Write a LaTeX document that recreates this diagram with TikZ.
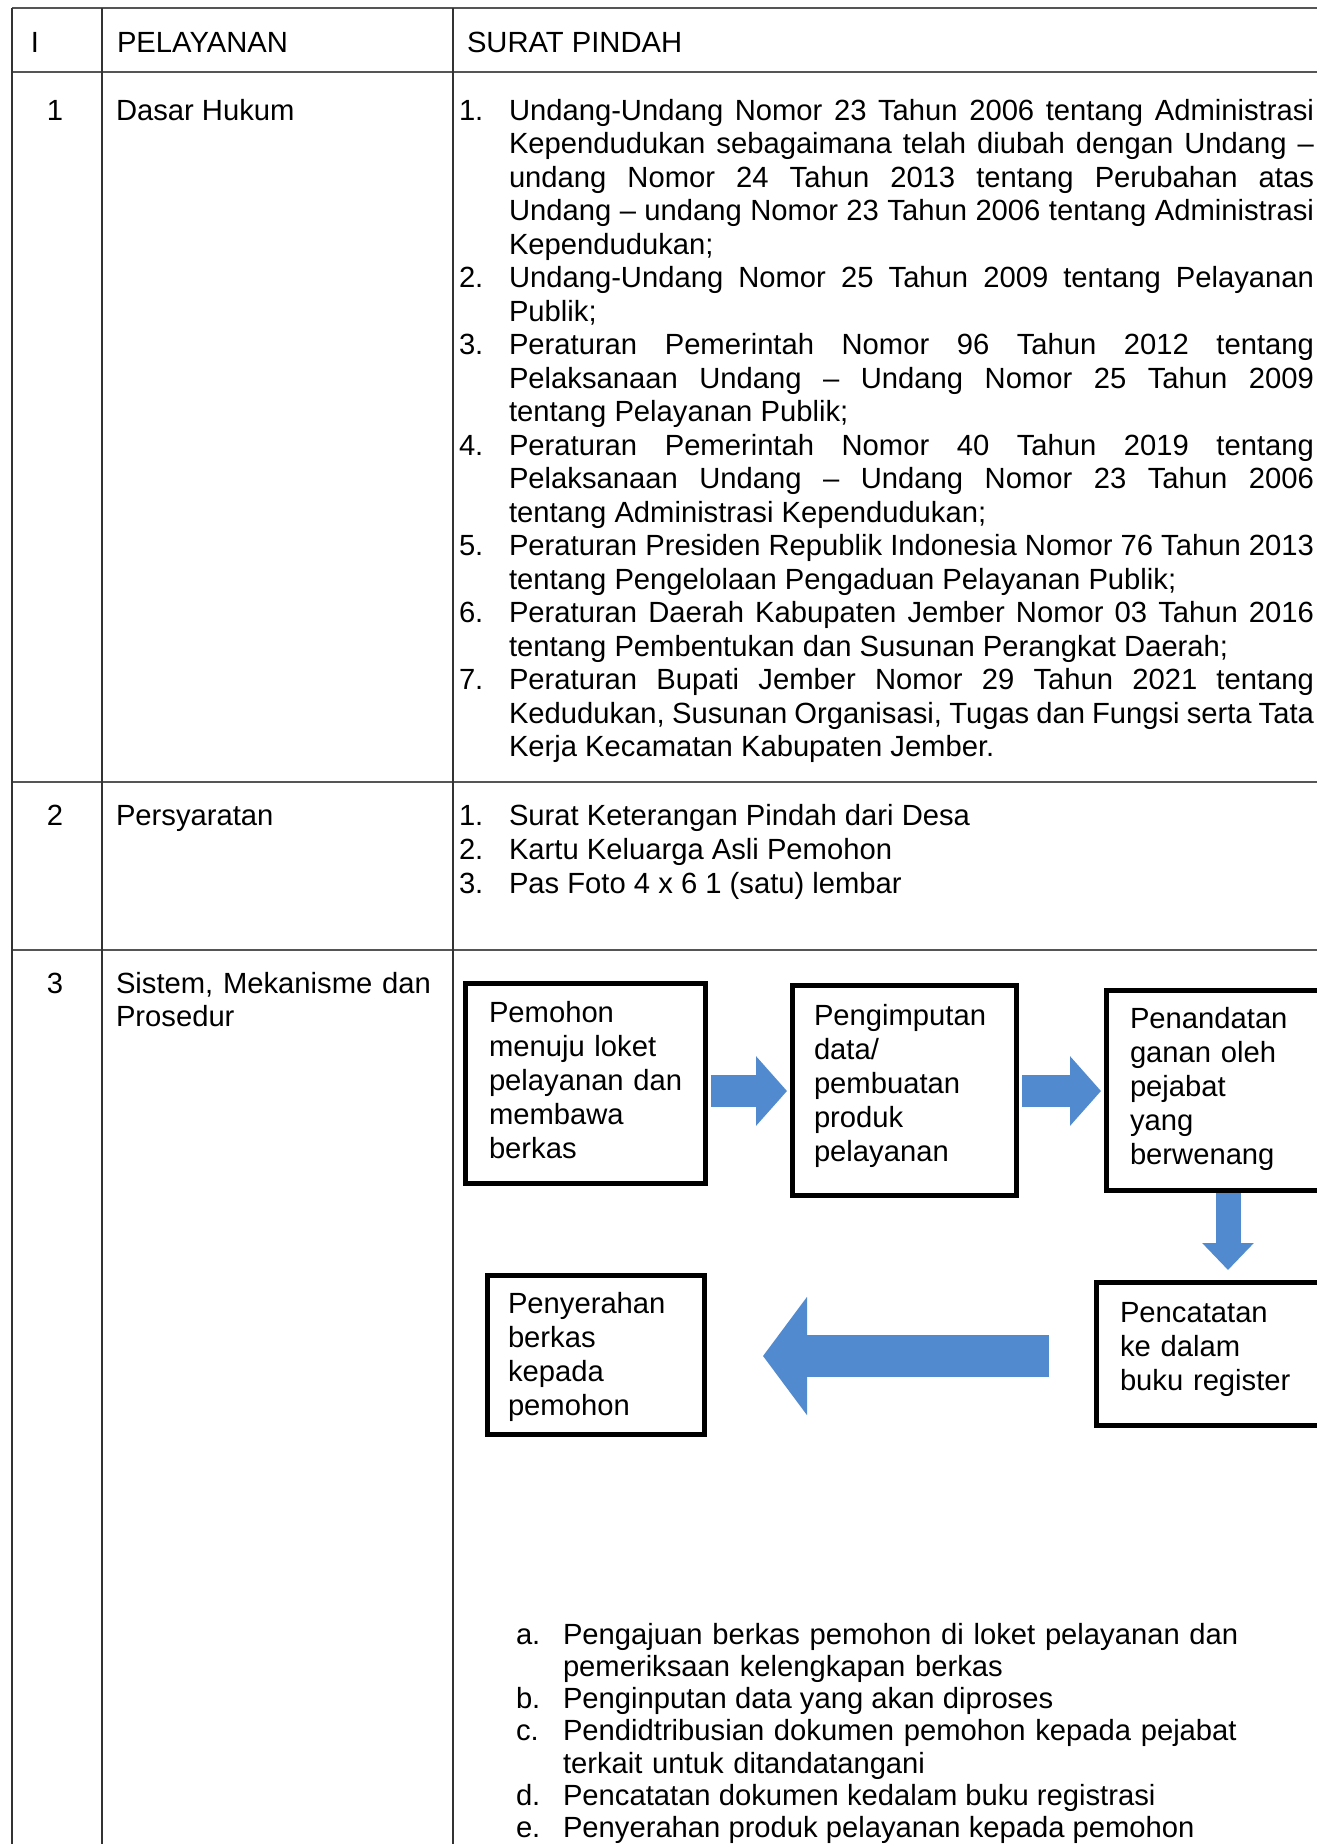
\documentclass[tikz,border=0pt]{standalone}
\usepackage{fontspec}
\setmainfont{Liberation Sans}
\usetikzlibrary{arrows.meta}
\definecolor{arrowblue}{RGB}{82,138,208}
\definecolor{rulegray}{RGB}{85,85,85}
\tolerance=10000
\hyphenpenalty=10000
\exhyphenpenalty=10000
\begin{document}
\begin{tikzpicture}[x=0.5pt,y=-0.5pt,
  every node/.style={inner sep=0pt, outer sep=0pt},
  body/.style={font=\fontsize{14.6pt}{16.75pt}\selectfont},
  txt/.style={body, anchor=base west},
  num/.style={body, anchor=base},
  para/.style={body, anchor=base west, text width=#1, align=left},
  jpara/.style={body, anchor=base west, text width=402.5pt, align=justify},
  flowtxt/.style={anchor=base west, text width=#1, align=left, font=\fontsize{14.6pt}{17pt}\selectfont},
  listtxt/.style={anchor=base west, text width=#1, align=left, font=\fontsize{14.6pt}{16.15pt}\selectfont},
  hline/.style={draw=rulegray, line width=1.2pt},
  vline/.style={draw=black!80, line width=0.75pt},
  flowbox/.style={draw=black, line width=2.5pt, rectangle},
  blockarrow/.style={draw=arrowblue, line cap=butt}
]
\useasboundingbox (0,0) rectangle (1317,1844);
\fill[white] (0,0) rectangle (1317,1844);
\clip (0,0) rectangle (1317,1844);

% table rules
\draw[hline] (12,8) -- (1330,8);
\draw[hline] (12,72) -- (1330,72);
\draw[hline] (12,782) -- (1330,782);
\draw[hline] (12,950) -- (1330,950);
\draw[vline] (12,8) -- (12,1850);
\draw[vline] (102,8) -- (102,1850);
\draw[vline] (453,8) -- (453,1850);

% header
\node[txt] (hI) at (31,52) {I};
\node[txt] (hP) at (117,52) {PELAYANAN};
\node[txt] (hS) at (467,52) {SURAT PINDAH};

% row 1
\node[num] (n1) at (55,120) {1};
\node[txt] (c1) at (116,120) {Dasar Hukum};
\node[txt] (d1n) at (459,120) {1.};
\node[jpara] (d1) at (509,120) {Undang-Undang Nomor 23 Tahun 2006 tentang Administrasi\linebreak Kependudukan sebagaimana telah diubah dengan Undang –\linebreak undang Nomor 24 Tahun 2013 tentang Perubahan atas\linebreak Undang – undang Nomor 23 Tahun 2006 tentang Administrasi\linebreak Kependudukan;};
\node[txt] (d2n) at (459,287.5) {2.};
\node[jpara] (d2) at (509,287.5) {Undang-Undang Nomor 25 Tahun 2009 tentang Pelayanan\linebreak Publik;};
\node[txt] (d3n) at (459,354.5) {3.};
\node[jpara] (d3) at (509,354.5) {Peraturan Pemerintah Nomor 96 Tahun 2012 tentang\linebreak Pelaksanaan Undang – Undang Nomor 25 Tahun 2009\linebreak tentang Pelayanan Publik;};
\node[txt] (d4n) at (459,455) {4.};
\node[jpara] (d4) at (509,455) {Peraturan Pemerintah Nomor 40 Tahun 2019 tentang\linebreak Pelaksanaan Undang – Undang Nomor 23 Tahun 2006\linebreak tentang Administrasi Kependudukan;};
\node[txt] (d5n) at (459,555.5) {5.};
\node[jpara] (d5) at (509,555.5) {Peraturan Presiden Republik Indonesia Nomor 76 Tahun 2013\linebreak tentang Pengelolaan Pengaduan Pelayanan Publik;};
\node[txt] (d6n) at (459,622.5) {6.};
\node[jpara] (d6) at (509,622.5) {Peraturan Daerah Kabupaten Jember Nomor 03 Tahun 2016\linebreak tentang Pembentukan dan Susunan Perangkat Daerah;};
\node[txt] (d7n) at (459,689.5) {7.};
\node[jpara] (d7) at (509,689.5) {Peraturan Bupati Jember Nomor 29 Tahun 2021 tentang\linebreak Kedudukan, Susunan Organisasi, Tugas dan Fungsi serta Tata\linebreak Kerja Kecamatan Kabupaten Jember.};

% row 2
\node[num] (n2) at (55,825) {2};
\node[txt] (c2) at (116,825) {Persyaratan};
\node[txt] (p1n) at (459,825) {1.};
\node[txt] (p1) at (509,825) {Surat Keterangan Pindah dari Desa};
\node[txt] (p2n) at (459,859) {2.};
\node[txt] (p2) at (509,859) {Kartu Keluarga Asli Pemohon};
\node[txt] (p3n) at (459,893) {3.};
\node[txt] (p3) at (509,893) {Pas Foto 4 x 6 1 (satu) lembar};

% row 3
\node[num] (n3) at (55,993) {3};
\node[para=170pt] (c3) at (116,993) {Sistem, Mekanisme dan\\Prosedur};

% flowchart boxes
\node[flowbox, minimum width=120pt, minimum height=100pt] (b1) at (585.5,1083) {};
\node[flowbox, minimum width=112pt, minimum height=105pt] (b2) at (904.5,1090.5) {};
\node[flowbox, minimum width=113.25pt, minimum height=100pt] (b3) at (1219.75,1090.5) {};
\node[flowbox, minimum width=118.5pt, minimum height=71.5pt] (b4) at (1215,1354) {};
\node[flowbox, minimum width=108.5pt, minimum height=79.5pt] (b5) at (596,1355) {};

\node[flowtxt=110pt] (t1) at (489,1022) {Pemohon\\menuju loket\\pelayanan dan\\membawa\\berkas};
\node[flowtxt=100pt] (t2) at (814,1025) {Pengimputan\\data/\\pembuatan\\produk\\pelayanan};
\node[flowtxt=100pt] (t3) at (1130,1028) {Penandatan\\ganan oleh\\pejabat\\yang\\berwenang};
\node[flowtxt=105pt] (t4) at (1120,1322) {Pencatatan\\ke dalam\\buku register};
\node[flowtxt=100pt] (t5) at (508,1313) {Penyerahan\\berkas\\kepada\\pemohon};

% block arrows
\coordinate (a1) at (0,1091);
\coordinate (a3) at (1228,0);
\coordinate (a4) at (0,1356);
\draw[blockarrow, line width=16pt, -{Triangle[length=15.5pt,width=34pt]}, shorten <=2.5pt, shorten >=2.75pt]
  (b1.east |- a1) -- (b2.west |- a1);
\draw[blockarrow, line width=16pt, -{Triangle[length=15.5pt,width=34pt]}, shorten <=2.75pt, shorten >=2.75pt]
  (b2.east |- a1) -- (b3.west |- a1);
\draw[blockarrow, line width=12.5pt, -{Triangle[length=13.5pt,width=25pt]}, shorten <=1.25pt, shorten >=6.25pt]
  (b3.south -| a3) -- (b4.north -| a3);
\draw[blockarrow, line width=21pt, -{Triangle[length=22pt,width=58pt]}, shorten <=23.75pt, shorten >=29.25pt]
  (b4.west |- a4) -- (b5.east |- a4);

% procedure list
\node[txt] (la) at (516,1644) {a.};
\node[listtxt=360pt] (ta) at (563,1644) {Pengajuan berkas pemohon di loket pelayanan dan\\pemeriksaan kelengkapan berkas};
\node[txt] (lb) at (516,1708.6) {b.};
\node[txt] (tb) at (563,1708.6) {Penginputan data yang akan diproses};
\node[txt] (lc) at (516,1740.9) {c.};
\node[listtxt=360pt] (tc) at (563,1740.9) {Pendidtribusian dokumen pemohon kepada pejabat\\terkait untuk ditandatangani};
\node[txt] (ld) at (516,1805.5) {d.};
\node[txt] (td) at (563,1805.5) {Pencatatan dokumen kedalam buku registrasi};
\node[txt] (le) at (516,1837.8) {e.};
\node[txt] (te) at (563,1837.8) {Penyerahan produk pelayanan kepada pemohon};
\end{tikzpicture}
\end{document}
